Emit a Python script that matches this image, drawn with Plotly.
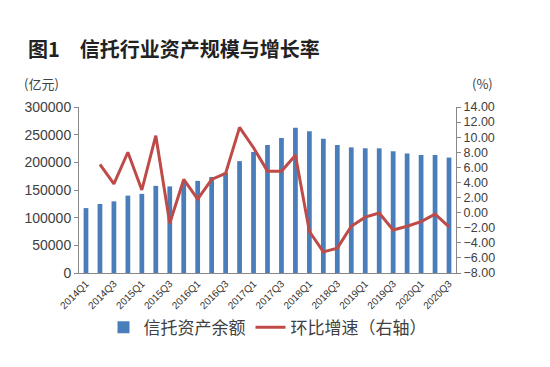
import plotly.graph_objects as go

quarters = ["2014Q1","2014Q2","2014Q3","2014Q4","2015Q1","2015Q2","2015Q3","2015Q4",
            "2016Q1","2016Q2","2016Q3","2016Q4","2017Q1","2017Q2","2017Q3","2017Q4",
            "2018Q1","2018Q2","2018Q3","2018Q4","2019Q1","2019Q2","2019Q3","2019Q4",
            "2020Q1","2020Q2","2020Q3"]
assets = [117300,124700,129500,139800,143000,157500,156500,163000,
          166500,173500,181500,202200,218800,231400,244100,262500,
          256100,242700,231400,227000,225400,225300,220000,216000,
          213300,213300,208600]
growth = [None,6.4,3.8,8.0,3.0,10.2,-1.4,4.4,
          1.8,4.4,5.2,11.3,8.6,5.5,5.5,7.6,
          -2.5,-5.2,-4.7,-1.8,-0.6,-0.05,-2.3,-1.8,
          -1.2,-0.2,-1.9]

FONT = "Noto Sans CJK SC"
NUMFONT = "Liberation Sans"
GREY = "#404040"

fig = go.Figure()
fig.add_trace(go.Bar(x=quarters, y=assets, name="信托资产余额",
                     marker=dict(color="#4a7ebb", line=dict(width=0))))
fig.add_trace(go.Scatter(x=quarters, y=growth, name="环比增速（右轴）", yaxis="y2",
                         mode="lines", line=dict(color="#be4b48", width=3)))

L, R, T, B = 71, 102, 99, 102
fig.update_layout(
    width=550, height=367,
    margin=dict(l=L, r=R, t=T, b=B),
    paper_bgcolor="white", plot_bgcolor="white",
    font=dict(family=FONT, color=GREY),
    bargap=0.66,
    showlegend=True,
    legend=dict(orientation="h", x=0.5, xanchor="center", y=-0.33, yanchor="middle",
                font=dict(size=17, color=GREY), itemwidth=30),
    xaxis=dict(type="category", showline=True, linecolor="#888", linewidth=1,
               tickmode="array", tickvals=quarters[::2], ticktext=quarters[::2],
               tickangle=-45, tickfont=dict(size=10, color="#333", family=NUMFONT),
               ticks="", showgrid=False),
    yaxis=dict(range=[0, 300000], dtick=50000, tickformat="d", showline=True, linecolor="#888",
               ticks="outside", ticklen=4, tickcolor="#888",
               tickfont=dict(size=14, color=GREY, family=NUMFONT), showgrid=False, zeroline=False),
    yaxis2=dict(range=[-8, 14], dtick=2, overlaying="y", side="right",
                tickformat=".2f", showline=True, linecolor="#888",
                ticks="outside", ticklen=4, tickcolor="#888",
                tickfont=dict(size=12.5, color=GREY, family=NUMFONT), showgrid=False, zeroline=False),
)
pw, ph = 550 - L - R, 367 - T - B
def px(x): return (x - L) / pw
def py(y): return (367 - B - y) / ph
fig.add_annotation(text="<b>图1</b>　<b>信托行业资产规模与增长率</b>", x=px(18), y=py(40), xref="paper", yref="paper",
                   showarrow=False, font=dict(size=20, color="#222"), xanchor="left", yanchor="middle")
fig.add_annotation(text="(亿元)", x=px(14), y=py(75), xref="paper", yref="paper",
                   showarrow=False, font=dict(size=13, color=GREY), xanchor="left", yanchor="middle")
fig.add_annotation(text="(%)", x=px(462), y=py(75), xref="paper", yref="paper",
                   showarrow=False, font=dict(size=13, color=GREY), xanchor="left", yanchor="middle")

fig.write_html("out.html")
